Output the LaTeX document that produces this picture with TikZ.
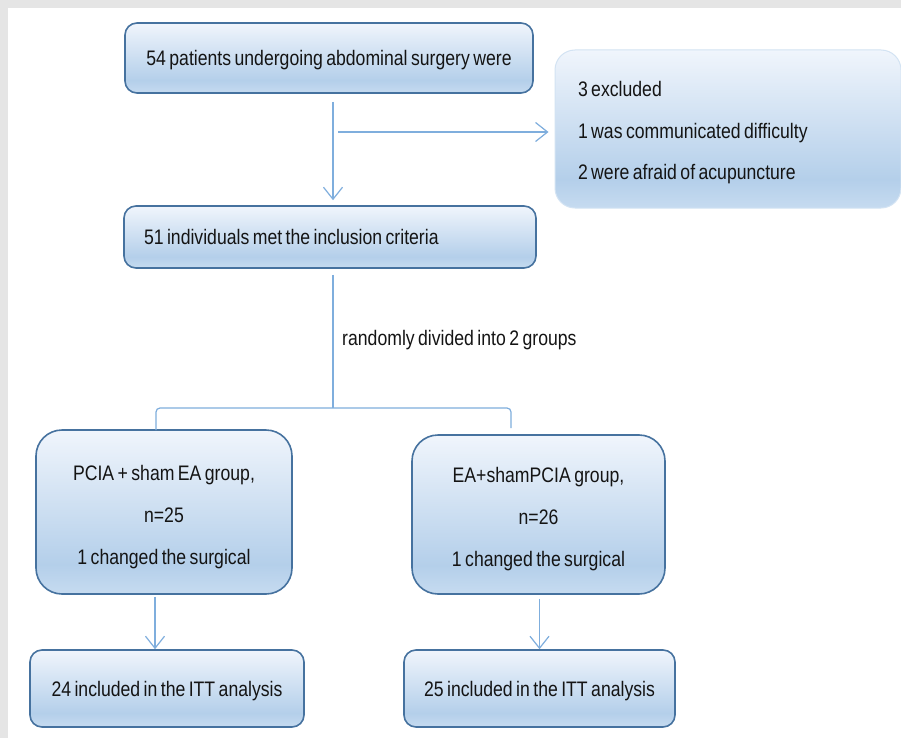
\documentclass[tikz,border=0pt]{standalone}
\usepackage{fontspec}
\setmainfont[FakeStretch=0.84,WordSpace=0.7]{Liberation Sans}
\usetikzlibrary{arrows.meta,calc}
\definecolor{bordc}{HTML}{46729F}
\definecolor{connc}{HTML}{7FAEDD}
\definecolor{txtc}{HTML}{141414}
\definecolor{shA}{HTML}{C6DBF0}
\definecolor{shB}{HTML}{B4CFEA}
\definecolor{shC}{HTML}{F0F5FC}
\definecolor{exbord}{HTML}{D3E3F3}
\pgfdeclareverticalshading{boxshade}{100bp}{color(0bp)=(shA); color(25bp)=(shA); color(34bp)=(shB); color(75bp)=(shC); color(100bp)=(shC)}
\tikzset{
  box/.style={draw=bordc, line width=1.6pt, shading=boxshade, rounded corners=12pt,
    inner sep=0pt, font=\fontsize{21}{25}\selectfont, text=txtc, text depth=0pt},
  grpbox/.style={box, rounded corners=26pt, align=center},
  exbox/.style={draw=exbord, line width=1pt, shading=boxshade, rounded corners=20pt,
    inner sep=0pt, font=\fontsize{21}{25}\selectfont, text=txtc, align=flush left},
  conn/.style={draw=connc, line width=1.2pt},
  arr/.style={conn, -{Straight Barb[length=12pt,width=19pt,line width=1.2pt]}},
  lbl/.style={font=\fontsize{21}{25}\selectfont, text=txtc, inner sep=0pt, anchor=west}
}
\begin{document}
\begin{tikzpicture}[x=1pt,y=-1pt]
\fill[black!10] (0,0) rectangle (901,738);
\fill[white] (8,8) rectangle (901,738);
\useasboundingbox (0,0) rectangle (901,738);

\node[box, minimum width=408, minimum height=70] (b1) at (329,58) {54 patients undergoing abdominal surgery were};
\node[exbox, minimum width=346, minimum height=158, text width=300] (ex) at (728,129)
  {\rule{0pt}{23pt}3 excluded\\[16.5pt]1 was communicated difficulty\\[16.5pt]2 were afraid of acupuncture};
\node[box, minimum width=412, minimum height=62, text width=372, align=flush left] (b2) at (330,237) {51 individuals met the inclusion criteria};

\node[grpbox, minimum width=256, minimum height=164] (g1) at (164,512)
  {\rule{0pt}{20pt}PCIA + sham EA group,\\[17pt]n=25\\[17pt]1 changed the surgical};
\node[grpbox, minimum width=253, minimum height=159] (g2) at (538.5,514.5)
  {\rule{0pt}{20pt}EA+shamPCIA group,\\[17pt]n=26\\[17pt]1 changed the surgical};

\node[box, minimum width=274, minimum height=77] (r1) at (167,688.5) {24 included in the ITT analysis};
\node[box, minimum width=271, minimum height=77] (r2) at (539.5,688.5) {25 included in the ITT analysis};

% connectors
\coordinate (branch) at (338,132);
\draw[arr] ($(b1.south)+(4,8)$) -- ($(b2.north)+(3,-5)$);
\draw[arr] (branch) -- ($(branch -| ex.west)+(-6,0)$);

\coordinate (split) at (333,408);
\coordinate (bl) at (156,430);
\coordinate (br) at (511,428);
\draw[conn] ($(b2.south)+(3,6)$) -- (split);
\draw[conn, rounded corners=4pt] (bl) -- (bl |- split) -- (br |- split) -- (br);
\node[lbl] (rand) at (342,340) {randomly divided into 2 groups};

\draw[arr] ($(g1.south)+(-9,2)$) -- ($(r1.north)+(-12,0)$);
\draw[arr] ($(g2.south)+(1,4)$) -- ($(r2.north)+(0,0)$);
\end{tikzpicture}
\end{document}
